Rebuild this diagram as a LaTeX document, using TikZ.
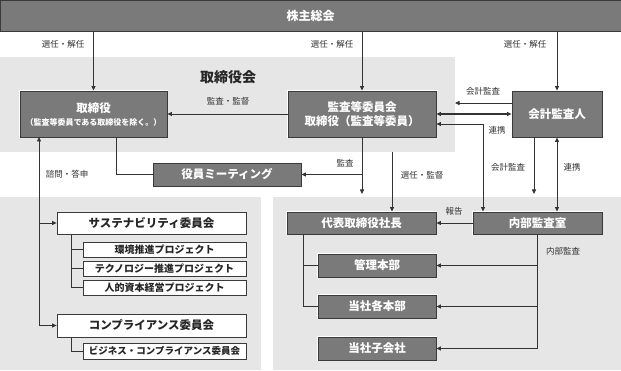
\documentclass[tikz,border=0pt]{standalone}
\usepackage{fontspec}
\setmainfont{Noto Sans CJK JP}
\usetikzlibrary{arrows.meta,calc}
\definecolor{boxfill}{HTML}{7A7A7A}
\definecolor{boxline}{HTML}{3A3A3A}
\definecolor{panel}{HTML}{E6E6E6}
\definecolor{ink}{HTML}{333333}
\begin{document}
\begin{tikzpicture}[x=1pt,y=-1pt,
 dbox/.style={draw=boxline, fill=boxfill, line width=0.9pt, text=white, font=\bfseries\fontsize{11.5}{14}\selectfont, inner sep=0pt, align=center, preaction={draw=white,line width=2.6pt}},
 wbox/.style={draw=boxline, fill=white, line width=0.8pt, text=black!85, font=\bfseries\fontsize{11.5}{13}\selectfont, inner sep=0pt},
 sbox/.style={wbox, font=\bfseries\fontsize{10}{11}\selectfont},
 lbl/.style={text=ink, font=\fontsize{8.5}{10}\selectfont, inner sep=0pt},
 ln/.style={draw=ink, line width=0.8pt},
 arr/.style={ln, -{Triangle[length=4.5pt,width=4pt]}},
 arr2/.style={ln, {Triangle[length=4.5pt,width=4pt]}-{Triangle[length=4.5pt,width=4pt]}},
]
\useasboundingbox (0,0) rectangle (621,371);
\fill[white] (0,0) rectangle (621,371);
% panels
\fill[panel] (0,57) rectangle (455,152);
\fill[panel] (0,197) rectangle (261,370);
\fill[panel] (273,197) rectangle (621,370);

% nodes
\node[dbox, minimum width=621pt, minimum height=31pt, font=\bfseries\fontsize{12}{14}\selectfont] (gm) at (310.5,15.5) {株主総会};
\node[font=\bfseries\fontsize{14}{16}\selectfont, text=black!85, inner sep=0pt] (bd) at (228,77) {取締役会};
\node[dbox, minimum width=147pt, minimum height=46pt] (tor) at (93.5,114) {取締役\\[-1pt]{\fontsize{8}{9}\selectfont（監査等委員である取締役を除く。）}};
\node[dbox, minimum width=148pt, minimum height=46pt] (kan) at (362,114) {監査等委員会\\取締役（監査等委員）};
\node[dbox, minimum width=90pt, minimum height=46pt] (kai) at (557,114) {会計監査人};
\node[dbox, minimum width=148pt, minimum height=23pt] (meet) at (227,174.5) {役員ミーティング};
\node[dbox, minimum width=149pt, minimum height=22pt] (pres) at (361.5,223) {代表取締役社長};
\node[dbox, minimum width=129pt, minimum height=22pt] (naibu) at (537.5,223) {内部監査室};
\node[dbox, minimum width=118pt, minimum height=23pt] (hq1) at (377,265.5) {管理本部};
\node[dbox, minimum width=118pt, minimum height=23pt] (hq2) at (377,306.5) {当社各本部};
\node[dbox, minimum width=118pt, minimum height=23pt] (sub) at (377,348.5) {当社子会社};

\node[wbox, minimum width=189pt, minimum height=22pt] (sus) at (151.5,223) {サステナビリティ委員会};
\node[sbox, minimum width=163pt, minimum height=15pt] (env) at (164.5,249.5) {環境推進プロジェクト};
\node[sbox, minimum width=163pt, minimum height=15pt] (tech) at (164.5,268.5) {テクノロジー推進プロジェクト};
\node[sbox, minimum width=163pt, minimum height=15pt] (hr) at (164.5,287.5) {人的資本経営プロジェクト};
\node[wbox, minimum width=189pt, minimum height=23pt] (comp) at (151.5,325.5) {コンプライアンス委員会};
\node[sbox, minimum width=163pt, minimum height=16pt, font=\bfseries\fontsize{9.5}{11}\selectfont] (biz) at (164.5,351) {ビジネス・コンプライアンス委員会};

% labels
\node[lbl] (l1) at (63,44) {選任・解任};
\node[lbl] (l2) at (332,44) {選任・解任};
\node[lbl] (l3) at (525,44) {選任・解任};
\node[lbl] (l4) at (228,101) {監査・監督};
\node[lbl] (l5) at (483,91) {会計監査};
\node[lbl] (l6) at (497,130) {連携};
\node[lbl] (l7) at (345,163) {監査};
\node[lbl] (l8) at (422,175) {選任・監督};
\node[lbl] (l9) at (508,167) {会計監査};
\node[lbl] (l10) at (572,167) {連携};
\node[lbl] (l11) at (67,174) {諮問・答申};
\node[lbl] (l12) at (454,211) {報告};
\node[lbl] (l13) at (563,251) {内部監査};

% connectors
\draw[arr] (gm.south -| tor.north) -- (tor.north);
\draw[arr] (gm.south -| kan.north) -- (kan.north);
\draw[arr] (gm.south -| kai.north) -- (kai.north);
\draw[arr] (kan.west) -- (tor.east);
\coordinate (ae) at (455,103);
\draw[arr] (kai.west |- ae) -- (ae);
\draw[arr2, line width=1.1pt] (kan.east) -- (kai.west);
\coordinate (r1) at (483,124);
\draw[arr2] (kan.east |- r1) -- (r1) -- (r1 |- naibu.north);
\coordinate (k1) at (534,194);
\draw[arr] (kai.south -| k1) -- (k1);
\draw[arr2] (kai.south) -- (kai.south |- naibu.north);
\coordinate (m1) at (362,194);
\draw[arr] (kan.south) -- (m1);
\draw[arr] (kan.south |- meet.east) -- (meet.east);
\coordinate (s1) at (392,152);
\draw[arr] (s1) -- (s1 |- pres.north);
\coordinate (t1) at (116,137);
\draw[ln] (t1) |- (meet.west);
\coordinate (c1) at (39,137);
\draw[arr2] (comp.west) -| (c1);
\draw[arr] (sus.west -| c1) -- (sus.west);
\coordinate (b1) at (71,234);
\draw[ln] (b1) |- (hr.west);
\draw[ln] (b1 |- env.west) -- (env.west);
\draw[ln] (b1 |- tech.west) -- (tech.west);
\coordinate (b2) at (71,337);
\draw[ln] (b2) |- (biz.west);
\coordinate (b3) at (303,234);
\draw[ln] (b3) |- (hq2.west);
\draw[ln] (b3 |- hq1.west) -- (hq1.west);
\draw[arr] (naibu.west) -- (pres.east);
\draw[arr] (naibu.south) |- (sub.east);
\draw[arr] (naibu.south |- hq1.east) -- (hq1.east);
\draw[arr] (naibu.south |- hq2.east) -- (hq2.east);
\end{tikzpicture}
\end{document}
